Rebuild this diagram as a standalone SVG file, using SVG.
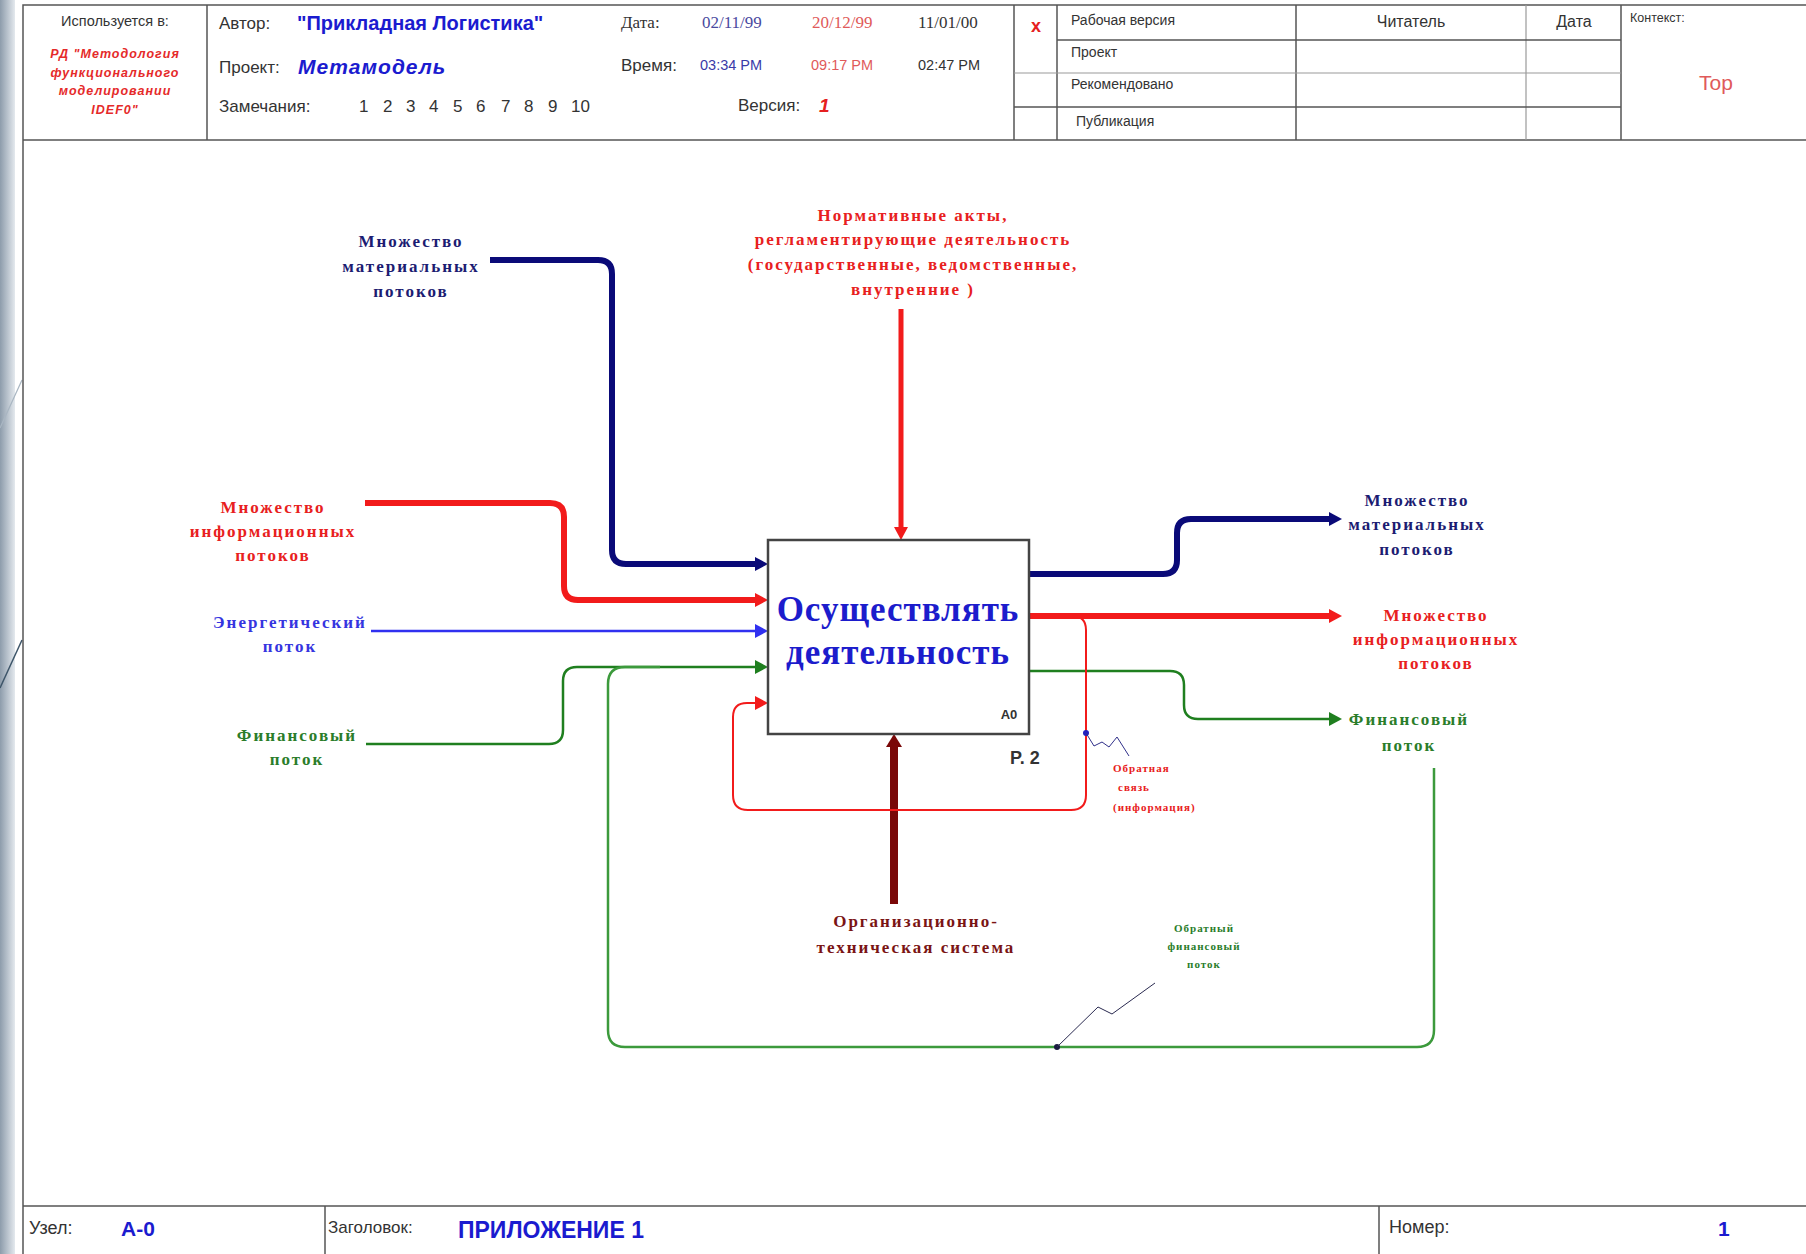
<svg xmlns="http://www.w3.org/2000/svg" width="1806" height="1254" viewBox="0 0 1806 1254">
  <defs>
    <linearGradient id="edge" x1="0" y1="0" x2="1" y2="0">
      <stop offset="0" stop-color="#8d9cab"/>
      <stop offset="1" stop-color="#e4e9ee"/>
    </linearGradient>
    <marker id="ah-navy" markerUnits="userSpaceOnUse" viewBox="0 -8 14 16" markerWidth="14" markerHeight="16" refX="0" refY="0" orient="auto">
      <path d="M0,-7 L13,0 L0,7 z" fill="#0a0a78"/>
    </marker>
    <marker id="ah-red" markerUnits="userSpaceOnUse" viewBox="0 -8 14 16" markerWidth="14" markerHeight="16" refX="0" refY="0" orient="auto">
      <path d="M0,-7 L13,0 L0,7 z" fill="#f21b1b"/>
    </marker>
    <marker id="ah-blue" markerUnits="userSpaceOnUse" viewBox="0 -8 14 16" markerWidth="14" markerHeight="16" refX="0" refY="0" orient="auto">
      <path d="M0,-7 L13,0 L0,7 z" fill="#3030f0"/>
    </marker>
    <marker id="ah-green" markerUnits="userSpaceOnUse" viewBox="0 -8 14 16" markerWidth="14" markerHeight="16" refX="0" refY="0" orient="auto">
      <path d="M0,-7 L13,0 L0,7 z" fill="#1f7f1f"/>
    </marker>
    <marker id="ah-maroon" markerUnits="userSpaceOnUse" viewBox="0 -9 14 18" markerWidth="14" markerHeight="18" refX="0" refY="0" orient="auto">
      <path d="M0,-8 L13,0 L0,8 z" fill="#7a0808"/>
    </marker>
  </defs>
  <style>
    .frame { fill: none; stroke: #555; stroke-width: 1.5; }
    .thin { fill: none; stroke: #999; stroke-width: 1.2; }
    .hs { font-family: "Liberation Sans", Arial, sans-serif; fill: #333; }
    .hser { font-family: "Liberation Serif", "Times New Roman", serif; }
    .blue { fill: #1b1bcf; font-weight: bold; }
    .hs.red { fill: #e52020; }
    .hs.pale-red { fill: #e05a5a; }
    .hs.pale-blue { fill: #3a3aa8; }
    .lbl { font-family: "Liberation Serif", "Times New Roman", serif; font-weight: bold; font-size: 17px; letter-spacing: 2px; text-anchor: middle; }
    .small { font-family: "Liberation Serif", "Times New Roman", serif; font-weight: bold; font-size: 11px; letter-spacing: 1px; }
    .c-navy { fill: #1c1c72; }
    .c-red { fill: #e82020; }
    .c-blue { fill: #3535e0; }
    .c-green { fill: #2a7d2a; }
    .c-maroon { fill: #7a1414; }
    .arrow { fill: none; stroke-linejoin: round; }
  </style>

  <!-- page background and left edge -->
  <rect x="0" y="0" width="1806" height="1254" fill="#ffffff"/>
  <rect x="0" y="0" width="15" height="1254" fill="url(#edge)"/>
  <line x1="0" y1="428" x2="22" y2="380" stroke="#a9b6c2" stroke-width="1.2"/>
  <line x1="0" y1="688" x2="22" y2="640" stroke="#3d5569" stroke-width="1.5"/>

  <!-- form frame -->
  <g id="frame">
    <path class="frame" d="M1806,5 H23 V1254"/>
    <line class="frame" x1="23" y1="140" x2="1806" y2="140"/>
    <line class="frame" x1="207" y1="5" x2="207" y2="140"/>
    <line class="frame" x1="1014" y1="5" x2="1014" y2="140"/>
    <line class="frame" x1="1057" y1="5" x2="1057" y2="140"/>
    <line class="frame" x1="1296" y1="5" x2="1296" y2="140"/>
    <line class="thin" x1="1526" y1="5" x2="1526" y2="140"/>
    <line class="frame" x1="1621" y1="5" x2="1621" y2="140"/>
    <line class="frame" x1="1057" y1="40" x2="1621" y2="40"/>
    <line class="thin" x1="1014" y1="73" x2="1621" y2="73"/>
    <line class="frame" x1="1014" y1="107" x2="1621" y2="107"/>
    <line class="frame" x1="23" y1="1206" x2="1806" y2="1206"/>
    <line class="frame" x1="325" y1="1206" x2="325" y2="1254"/>
    <line class="frame" x1="1379" y1="1206" x2="1379" y2="1254"/>
  </g>

  <!-- header -->
  <g id="header">
    <text class="hs" x="115" y="26" font-size="14.5" text-anchor="middle">Используется в:</text>
    <g font-family="Liberation Sans, Arial, sans-serif" font-size="12.5" font-weight="bold" font-style="italic" fill="#e52a2a" text-anchor="middle" letter-spacing="1">
      <text x="115" y="58">РД "Методология</text>
      <text x="115" y="77">функционального</text>
      <text x="115" y="95">моделировании</text>
      <text x="115" y="114">IDEF0"</text>
    </g>
    <text class="hs" x="219" y="29" font-size="17">Автор:</text>
    <text class="hs blue" x="297" y="30" font-size="20">"Прикладная Логистика"</text>
    <text class="hs" x="219" y="73" font-size="17">Проект:</text>
    <text class="hs blue" x="298" y="74" font-size="21" font-style="italic" letter-spacing="1">Метамодель</text>
    <text class="hs" x="219" y="112" font-size="17">Замечания:</text>
    <text class="hs" y="112" font-size="17"><tspan x="359">1</tspan><tspan x="383">2</tspan><tspan x="406">3</tspan><tspan x="429">4</tspan><tspan x="453">5</tspan><tspan x="476">6</tspan><tspan x="501">7</tspan><tspan x="524">8</tspan><tspan x="548">9</tspan><tspan x="571">10</tspan></text>

    <text class="hser" x="621" y="28" font-size="17" fill="#333">Дата:</text>
    <text class="hser" x="702" y="28" font-size="17" fill="#4a4aa0">02/11/99</text>
    <text class="hser" x="812" y="28" font-size="17" fill="#e05a5a">20/12/99</text>
    <text class="hser" x="918" y="28" font-size="17" fill="#333">11/01/00</text>
    <text class="hs" x="621" y="71" font-size="17">Время:</text>
    <text class="hs pale-blue" x="700" y="70" font-size="14.5">03:34 PM</text>
    <text class="hs pale-red" x="811" y="70" font-size="14.5">09:17 PM</text>
    <text class="hs" x="918" y="70" font-size="14.5">02:47 PM</text>
    <text class="hs" x="738" y="111" font-size="17">Версия:</text>
    <text class="hs red" x="819" y="112" font-size="19" font-weight="bold" font-style="italic">1</text>

    <text class="hs red" x="1036" y="32" font-size="18" font-weight="bold" text-anchor="middle">x</text>
    <text class="hs" x="1071" y="25" font-size="14">Рабочая версия</text>
    <text class="hs" x="1071" y="57" font-size="14">Проект</text>
    <text class="hs" x="1071" y="89" font-size="14">Рекомендовано</text>
    <text class="hs" x="1076" y="126" font-size="14">Публикация</text>
    <text class="hs" x="1411" y="27" font-size="16" text-anchor="middle">Читатель</text>
    <text class="hs" x="1574" y="27" font-size="16" text-anchor="middle">Дата</text>
    <text class="hs" x="1630" y="22" font-size="12.5">Контекст:</text>
    <text class="hs pale-red" x="1716" y="90" font-size="21" text-anchor="middle">Top</text>
  </g>

  <!-- footer -->
  <g id="footer">
    <text class="hs" x="29" y="1234" font-size="18">Узел:</text>
    <text class="hs blue" x="121" y="1236" font-size="21">A-0</text>
    <text class="hs" x="328" y="1233" font-size="17">Заголовок:</text>
    <text class="hs blue" x="458" y="1238" font-size="23">ПРИЛОЖЕНИЕ 1</text>
    <text class="hs" x="1389" y="1233" font-size="18">Номер:</text>
    <text class="hs blue" x="1718" y="1236" font-size="21">1</text>
  </g>

  <!-- connectors -->
  <g id="connectors">
    <!-- inputs -->
    <path class="arrow" d="M490,260 H598 Q612,260 612,274 V550 Q612,564 626,564 H755" stroke="#0a0a78" stroke-width="6" marker-end="url(#ah-navy)"/>
    <path class="arrow" d="M365,503 H550 Q564,503 564,517 V586 Q564,600 578,600 H755" stroke="#f21b1b" stroke-width="6" marker-end="url(#ah-red)"/>
    <path class="arrow" d="M371,631 H755" stroke="#3030f0" stroke-width="2.5" marker-end="url(#ah-blue)"/>
    <path class="arrow" d="M366,744 H549 Q563,744 563,730 V681 Q563,667 577,667 H755" stroke="#1f7f1f" stroke-width="2.5" marker-end="url(#ah-green)"/>
    <!-- control -->
    <path class="arrow" d="M901,309 V527" stroke="#f21b1b" stroke-width="5" marker-end="url(#ah-red)"/>
    <!-- mechanism -->
    <path class="arrow" d="M894,904 V747" stroke="#7a0808" stroke-width="8" marker-end="url(#ah-maroon)"/>
    <!-- outputs -->
    <path class="arrow" d="M1029,574 H1163 Q1177,574 1177,560 V533 Q1177,519 1191,519 H1329" stroke="#0a0a78" stroke-width="6" marker-end="url(#ah-navy)"/>
    <path class="arrow" d="M1029,616 H1329" stroke="#f21b1b" stroke-width="6" marker-end="url(#ah-red)"/>
    <path class="arrow" d="M1029,671 H1170 Q1184,671 1184,685 V705 Q1184,719 1198,719 H1329" stroke="#1f7f1f" stroke-width="2.5" marker-end="url(#ah-green)"/>
    <!-- information feedback -->
    <path class="arrow" d="M1072,616 Q1086,616 1086,630 V795 Q1086,810 1071,810 H748 Q733,810 733,795 V717 Q733,703 747,703 H755" stroke="#f21b1b" stroke-width="2" marker-end="url(#ah-red)"/>
    <circle cx="1086" cy="733" r="3" fill="#2020c0"/>
    <path d="M1086,733 L1094,746 L1102,742 L1109,747 L1117,737 L1129,756" fill="none" stroke="#30308a" stroke-width="1"/>
    <!-- financial feedback -->
    <path class="arrow" d="M1434,768 V1030 Q1434,1047 1417,1047 H625 Q608,1047 608,1030 V684 Q608,667 625,667 H660" stroke="#3c9a3c" stroke-width="2.5"/>
    <circle cx="1057" cy="1047" r="3" fill="#1a1a40"/>
    <path d="M1057,1047 L1098,1007 L1112,1014 L1155,983" fill="none" stroke="#2a2a50" stroke-width="1"/>
  </g>

  <!-- activity box -->
  <g id="node-a0">
    <rect x="768" y="540" width="261" height="194" fill="#ffffff" stroke="#444" stroke-width="2.5"/>
    <text x="898" y="621" font-family="Liberation Serif, Times New Roman, serif" font-weight="bold" font-size="35" letter-spacing="1" fill="#1c1ccc" text-anchor="middle">Осуществлять</text>
    <text x="898" y="664" font-family="Liberation Serif, Times New Roman, serif" font-weight="bold" font-size="35" letter-spacing="1" fill="#1c1ccc" text-anchor="middle">деятельность</text>
    <text class="hs" x="1009" y="719" font-size="13" font-weight="bold" fill="#222" text-anchor="middle">A0</text>
    <text class="hs" x="1010" y="764" font-size="18" font-weight="bold" fill="#222">P. 2</text>
  </g>

  <!-- arrow labels -->
  <g id="lbl-in-material" class="lbl c-navy">
    <text x="411" y="247">Множество</text>
    <text x="411" y="272">материальных</text>
    <text x="411" y="297">потоков</text>
  </g>
  <g id="lbl-control" class="lbl c-red">
    <text x="913" y="221">Нормативные акты,</text>
    <text x="913" y="245">регламентирующие деятельность</text>
    <text x="913" y="270">(государственные, ведомственные,</text>
    <text x="913" y="295">внутренние )</text>
  </g>
  <g id="lbl-in-info" class="lbl c-red">
    <text x="273" y="513">Множество</text>
    <text x="273" y="537">информационных</text>
    <text x="273" y="561">потоков</text>
  </g>
  <g id="lbl-in-energy" class="lbl c-blue">
    <text x="290" y="628">Энергетический</text>
    <text x="290" y="652">поток</text>
  </g>
  <g id="lbl-in-finance" class="lbl c-green">
    <text x="297" y="741">Финансовый</text>
    <text x="297" y="765">поток</text>
  </g>
  <g id="lbl-out-material" class="lbl c-navy">
    <text x="1417" y="506">Множество</text>
    <text x="1417" y="530">материальных</text>
    <text x="1417" y="555">потоков</text>
  </g>
  <g id="lbl-out-info" class="lbl c-red">
    <text x="1436" y="621">Множество</text>
    <text x="1436" y="645">информационных</text>
    <text x="1436" y="669">потоков</text>
  </g>
  <g id="lbl-out-finance" class="lbl c-green">
    <text x="1409" y="725">Финансовый</text>
    <text x="1409" y="751">поток</text>
  </g>
  <g id="lbl-mechanism" class="lbl c-maroon">
    <text x="916" y="927">Организационно-</text>
    <text x="916" y="953">техническая система</text>
  </g>
  <g id="lbl-feedback-info" class="small c-red">
    <text x="1113" y="772">Обратная</text>
    <text x="1118" y="791">связь</text>
    <text x="1113" y="811">(информация)</text>
  </g>
  <g id="lbl-feedback-finance" class="small c-green" text-anchor="middle">
    <text x="1204" y="932">Обратный</text>
    <text x="1204" y="950">финансовый</text>
    <text x="1204" y="968">поток</text>
  </g>
</svg>
